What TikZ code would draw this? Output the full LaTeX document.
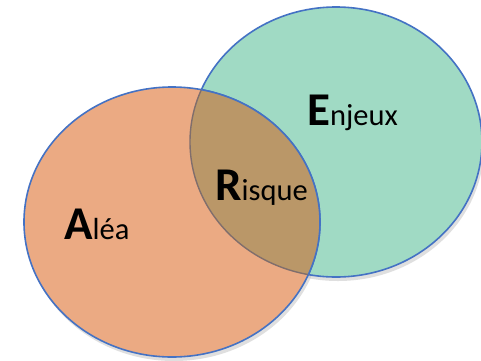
\documentclass[tikz,border=0pt]{standalone}
\usepackage{fontspec}
\setmainfont{Carlito}
\definecolor{edgeblue}{RGB}{68,114,196}
\definecolor{greenfill}{RGB}{160,218,196}
\definecolor{orangefill}{RGB}{235,170,131}
\definecolor{overlapfill}{RGB}{186,151,104}
\definecolor{inneredge}{RGB}{128,110,108}
\newcommand{\bigini}[1]{{\fontsize{47}{47}\selectfont\bfseries #1}}
\newcommand{\smallrest}[1]{{\fontsize{30.5}{30.5}\selectfont #1}}
\tikzset{
  setshape/.style={line width=1.6pt, draw=edgeblue},
  lbl/.style={anchor=base west, inner sep=0pt, text=black},
}
\begin{document}
\begin{tikzpicture}[x=1pt,y=-1pt]
\useasboundingbox (0,0) rectangle (481,360);
% soft shadows
\fill[black!25, opacity=0.5] (338,146) ellipse [x radius=146, y radius=135];
\fill[black!25, opacity=0.5] (174,226) ellipse [x radius=148, y radius=135];
% green set
\filldraw[setshape, fill=greenfill] (336,142) ellipse [x radius=146, y radius=135];
% orange set
\filldraw[setshape, fill=orangefill] (172,222) ellipse [x radius=148, y radius=135];
% overlap
\begin{scope}
  \clip (172,222) ellipse [x radius=148, y radius=135];
  \fill[overlapfill] (336,142) ellipse [x radius=146, y radius=135];
  \draw[line width=1.4pt, inneredge] (336,142) ellipse [x radius=146, y radius=135];
\end{scope}
\begin{scope}
  \clip (336,142) ellipse [x radius=146, y radius=135];
  \draw[setshape] (172,222) ellipse [x radius=148, y radius=135];
\end{scope}
% labels
\node[lbl] (alea) at (64,239) {\bigini{A}\smallrest{léa}};
\node[lbl] (enjeux) at (307,125) {\bigini{E}\smallrest{njeux}};
\node[lbl] (risque) at (215,200) {\bigini{R}\smallrest{isque}};
\end{tikzpicture}
\end{document}
